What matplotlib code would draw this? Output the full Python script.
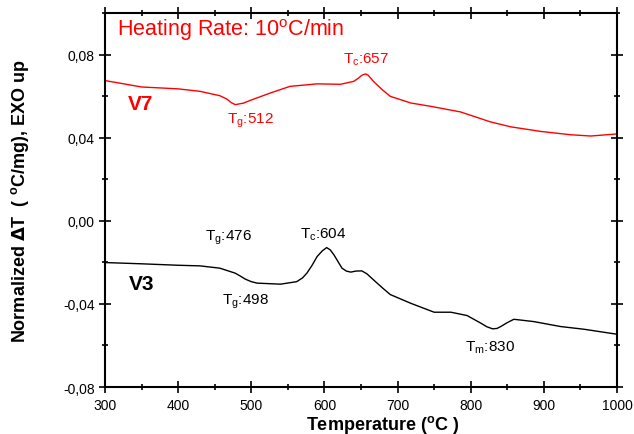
"""
DTA curves of V3 and V7 glasses, heating rate 10 C/min.
"""

import matplotlib
matplotlib.use("Agg")
import matplotlib.pyplot as plt
from matplotlib.ticker import MultipleLocator, FuncFormatter

plt.rcParams["font.family"] = ["Liberation Sans", "DejaVu Sans"]
plt.rcParams["mathtext.fontset"] = "custom"
plt.rcParams["mathtext.rm"] = "Liberation Sans"

# V7 (red)
v7_temp = [300, 350, 400, 430, 457, 466, 473, 478, 489, 499, 526, 553, 590,
           622, 640, 646, 651, 656, 660, 667, 679, 690, 704, 718, 745, 786,
           827, 855, 896, 937, 964, 1000]
v7_dt = [0.0675, 0.0644, 0.0635, 0.0623, 0.0602, 0.0587, 0.0568, 0.0559,
         0.0566, 0.0580, 0.0615, 0.0647, 0.0659, 0.0657, 0.0671, 0.0685,
         0.0700, 0.0707, 0.0700, 0.0671, 0.0631, 0.0599, 0.0583, 0.0567,
         0.0551, 0.0524, 0.0476, 0.0452, 0.0430, 0.0414, 0.0408, 0.0418]

# V3 (black)
v3_temp = [300, 350, 400, 430, 457, 478, 485, 492, 500, 508, 540, 562, 570,
           576, 583, 590, 597, 603, 608, 613, 624, 630, 636, 643, 651, 658,
           667, 680, 690, 718, 750, 773, 795, 814, 822, 830, 836, 841, 850,
           859, 886, 923, 955, 1000]
v3_dt = [-0.0201, -0.0207, -0.0214, -0.0217, -0.0228, -0.0252, -0.0266,
         -0.0281, -0.0293, -0.0300, -0.0305, -0.0293, -0.0275, -0.0252,
         -0.0215, -0.0172, -0.0145, -0.0129, -0.0140, -0.0164, -0.0228,
         -0.0242, -0.0247, -0.0242, -0.0241, -0.0255, -0.0284, -0.0325,
         -0.0355, -0.0397, -0.0440, -0.0440, -0.0456, -0.0493, -0.0510,
         -0.0520, -0.0518, -0.0509, -0.0490, -0.0474, -0.0485, -0.0509,
         -0.0522, -0.0546]

RED = "#ff0000"


def comma_fmt(v, pos):
    return f"{v:.2f}".replace(".", ",")


def main():
    fig = plt.figure(figsize=(6.34, 4.35), dpi=100)
    ax = fig.add_axes([0.1656, 0.108, 0.8076, 0.8598])

    ax.plot(v7_temp, v7_dt, color=RED, lw=1.0)
    ax.plot(v3_temp, v3_dt, color="black", lw=1.0)

    ax.set_xlim(300, 1000)
    ax.set_ylim(-0.08, 0.10)
    ax.xaxis.set_major_locator(MultipleLocator(100))
    ax.xaxis.set_minor_locator(MultipleLocator(50))
    ax.yaxis.set_major_locator(MultipleLocator(0.04))
    ax.yaxis.set_minor_locator(MultipleLocator(0.02))
    ax.yaxis.set_major_formatter(FuncFormatter(comma_fmt))
    ax.tick_params(which="both", direction="inout", top=True, right=True,
                   labelsize=10, width=1.2)
    ax.tick_params(which="major", length=8)
    ax.tick_params(axis="x", which="major", pad=4)
    ax.tick_params(which="minor", length=5)
    for s in ax.spines.values():
        s.set_linewidth(1.5)

    ax.set_xlabel(r"Temperature ($^\mathregular{o}$C )", fontsize=13,
                  fontweight="bold")
    ax.xaxis.set_label_coords(0.543, -0.069, transform=ax.transAxes)
    ax.xaxis.label.set_va("top")
    ax.set_ylabel(r"Normalized $\mathbf{\Delta}$T  ( $^\mathregular{o}$C/mg), EXO up",
                  fontsize=13, fontweight="bold")
    ax.yaxis.set_label_coords(-0.145, 0.5, transform=ax.transAxes)

    # annotations
    ax.text(316, 0.0894, r"Heating Rate: 10$^\mathregular{o}$C/min",
            color=RED, fontsize=15.5)
    ax.text(331, 0.0538, "V7", color=RED, fontsize=15, fontweight="bold")
    ax.text(467, 0.0476, r"T$_\mathregular{g}$:512", color=RED, fontsize=11)
    ax.text(625, 0.0764, r"T$_\mathregular{c}$:657", color=RED, fontsize=11)

    ax.text(333, -0.0328, "V3", color="black", fontsize=15, fontweight="bold")
    ax.text(437, -0.0091, r"T$_\mathregular{g}$:476", fontsize=11)
    ax.text(567, -0.0078, r"T$_\mathregular{c}$:604", fontsize=11)
    ax.text(460, -0.0395, r"T$_\mathregular{g}$:498", fontsize=11)
    ax.text(792, -0.0624, r"T$_\mathregular{m}$:830", fontsize=11)

    fig.savefig("out.png", dpi=100)
    plt.close(fig)


if __name__ == "__main__":
    main()
